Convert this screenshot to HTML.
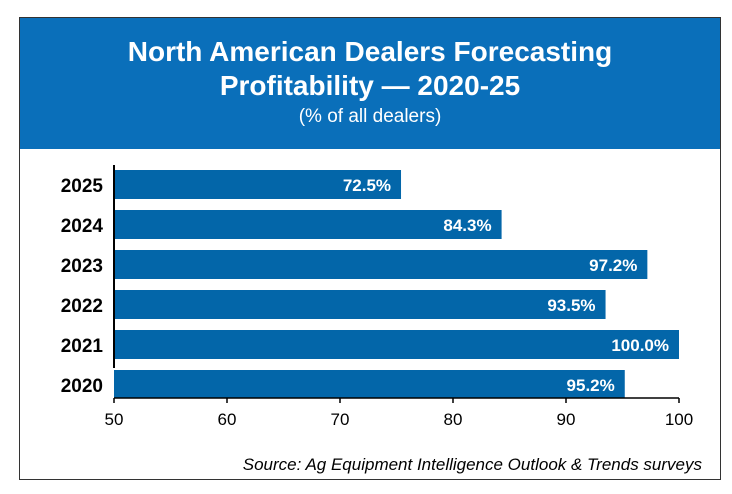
<!DOCTYPE html>
<html><head><meta charset="utf-8"><style>
body{margin:0;background:#fff;width:732px;height:494px;overflow:hidden;font-family:"Liberation Sans",sans-serif}
#frame{position:absolute;left:19px;top:17px;width:702px;height:463px;border:1.5px solid #333;box-sizing:border-box}
#hdr{position:absolute;left:0;top:0;width:100%;height:131px;background:#0a6fba;color:#fff;text-align:center}
</style></head><body>
<div id="frame">
<div id="hdr">
<div style="font-weight:bold;font-size:28px;line-height:34px;padding-top:17px">North American Dealers Forecasting<br>Profitability — 2020-25</div>
<div style="font-size:19px;margin-top:3px">(% of all dealers)</div>
</div></div>
<svg id="c" width="732" height="494" style="position:absolute;left:0;top:0"></svg>
<script>
const categories=["2025","2024","2023","2022","2021","2020"];
const values=[75.4,84.3,97.2,93.5,100.0,95.2];
const valueLabels=["72.5%","84.3%","97.2%","93.5%","100.0%","95.2%"];
const ticks=[50,60,70,80,90,100];
const NS="http://www.w3.org/2000/svg";
const svg=document.getElementById('c');
const x=v=>114+(v-50)*11.3;
const y=i=>170+i*40;
function mk(t,a,txt){const e=document.createElementNS(NS,t);for(const k in a)e.setAttribute(k,a[k]);if(txt!=null)e.textContent=txt;svg.appendChild(e);return e;}
categories.forEach((c,i)=>{
 const b=mk('rect',{x:x(50),y:y(i),width:x(values[i])-x(50),height:i==5?28:29,fill:'#0366a9'});
 
 
 const l=mk('text',{x:x(values[i])-10,y:y(i)+21,'text-anchor':'end',fill:'#fff','font-size':17,'font-weight':'bold'},valueLabels[i]);
 
 
 const cl=mk('text',{x:103,y:y(i)+22,'text-anchor':'end',fill:'#000','font-size':19,'font-weight':'bold'},c);
 
 
});
const ya=mk('line',{x1:114,y1:165,x2:114,y2:368,stroke:'#000','stroke-width':2});


const xa=mk('line',{x1:114,y1:398,x2:x(100),y2:398,stroke:'#000','stroke-width':1.5});


ticks.forEach(t=>{
 const tk=mk('line',{x1:x(t),y1:398,x2:x(t),y2:403,stroke:'#000','stroke-width':1.5});
 
 
 const tl=mk('text',{x:x(t),y:425,'text-anchor':'middle',fill:'#000','font-size':17},t);
 
 
});
const s=mk('text',{x:702,y:470,'text-anchor':'end',fill:'#000','font-size':17,'font-style':'italic'},'Source: Ag Equipment Intelligence Outlook & Trends surveys');


</script>
</body></html>
